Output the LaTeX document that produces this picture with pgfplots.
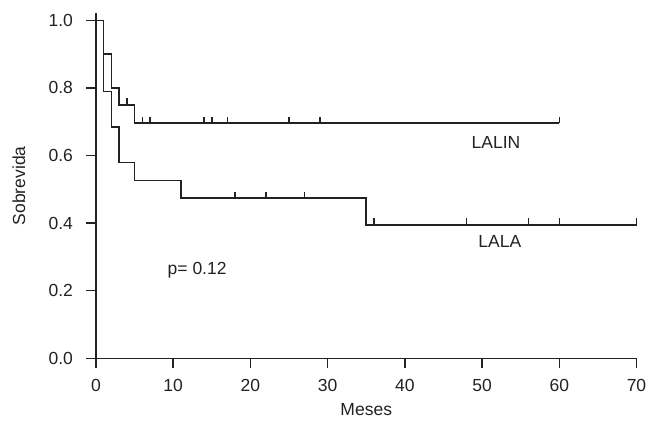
\documentclass[border=0pt]{standalone}
\usepackage{fontspec}
\setmainfont{Liberation Sans}
\usepackage{pgfplots}
\pgfplotsset{compat=1.18}

\definecolor{ink}{HTML}{222222}

% censoring tick: short stroke pointing up from the curve
\pgfdeclareplotmark{cens}{%
  \pgfpathmoveto{\pgfpoint{0pt}{0pt}}%
  \pgfpathlineto{\pgfpoint{0pt}{6.5pt}}%
  \pgfusepathqstroke}

\begin{document}
\begin{tikzpicture}
\begin{axis}[scale only axis, width=540.5pt, height=344.8pt,
  xmin=0, xmax=70, ymin=0, ymax=1.02,
  axis lines*=left, axis line style={ink, line width=1.5pt},
  xtick={0,10,...,70}, ytick={0,0.2,...,1.0},
  tick align=outside, major tick length=9.5pt,
  tick style={ink, line width=1.5pt},
  every tick label/.append style={font=\fontsize{17.5}{20}\selectfont, text=ink},
  /pgf/number format/assume math mode=true,
  yticklabel style={xshift=-10pt, /pgf/number format/.cd, fixed, fixed zerofill, precision=1},
  xticklabel style={yshift=-8pt, /pgf/number format/.cd, fixed, precision=0},
  label style={font=\fontsize{17.5}{20}\selectfont, text=ink},
  xlabel={Meses}, ylabel={Sobrevida},
  xlabel style={at={(axis description cs:0.5,-0.148)}, anchor=center},
  ylabel style={at={(axis description cs:-0.1425,0.5)}, anchor=center},
  clip=false]

% LALIN
\addplot[const plot, ink, line width=1.5pt] coordinates {
  (0,1.0) (1,0.9) (2,0.8) (3,0.75) (5,0.696) (60,0.696)};
\addplot[only marks, mark=cens, ink, line width=1.5pt] coordinates {
  (4,0.75) (6,0.696) (7,0.696) (14,0.696) (15,0.696) (17,0.696) (25,0.696) (29,0.696) (60,0.696)};

% LALA
\addplot[const plot, ink, line width=1.5pt] coordinates {
  (0,1.0) (1,0.789) (2,0.684) (3,0.579) (5,0.526) (11,0.474) (35,0.395) (70,0.395)};
\addplot[only marks, mark=cens, ink, line width=1.5pt] coordinates {
  (18,0.474) (22,0.474) (27,0.474) (36,0.395) (48,0.395) (56,0.395) (60,0.395) (70,0.395)};

\node[text=ink, font=\fontsize{17.5}{20}\selectfont] at (axis cs:51.8,0.637) {LALIN};
\node[text=ink, font=\fontsize{17.5}{20}\selectfont] at (axis cs:52.3,0.347) {LALA};
\node[text=ink, font=\fontsize{17.5}{20}\selectfont] at (axis cs:13.1,0.261) {p= 0.12};

\coordinate (O) at (axis cs:0,0);
\end{axis}
\pgfresetboundingbox
\path[use as bounding box] ([xshift=-96pt,yshift=-62.7pt]O) rectangle ([xshift=550pt,yshift=358.3pt]O);
\end{tikzpicture}
\end{document}
